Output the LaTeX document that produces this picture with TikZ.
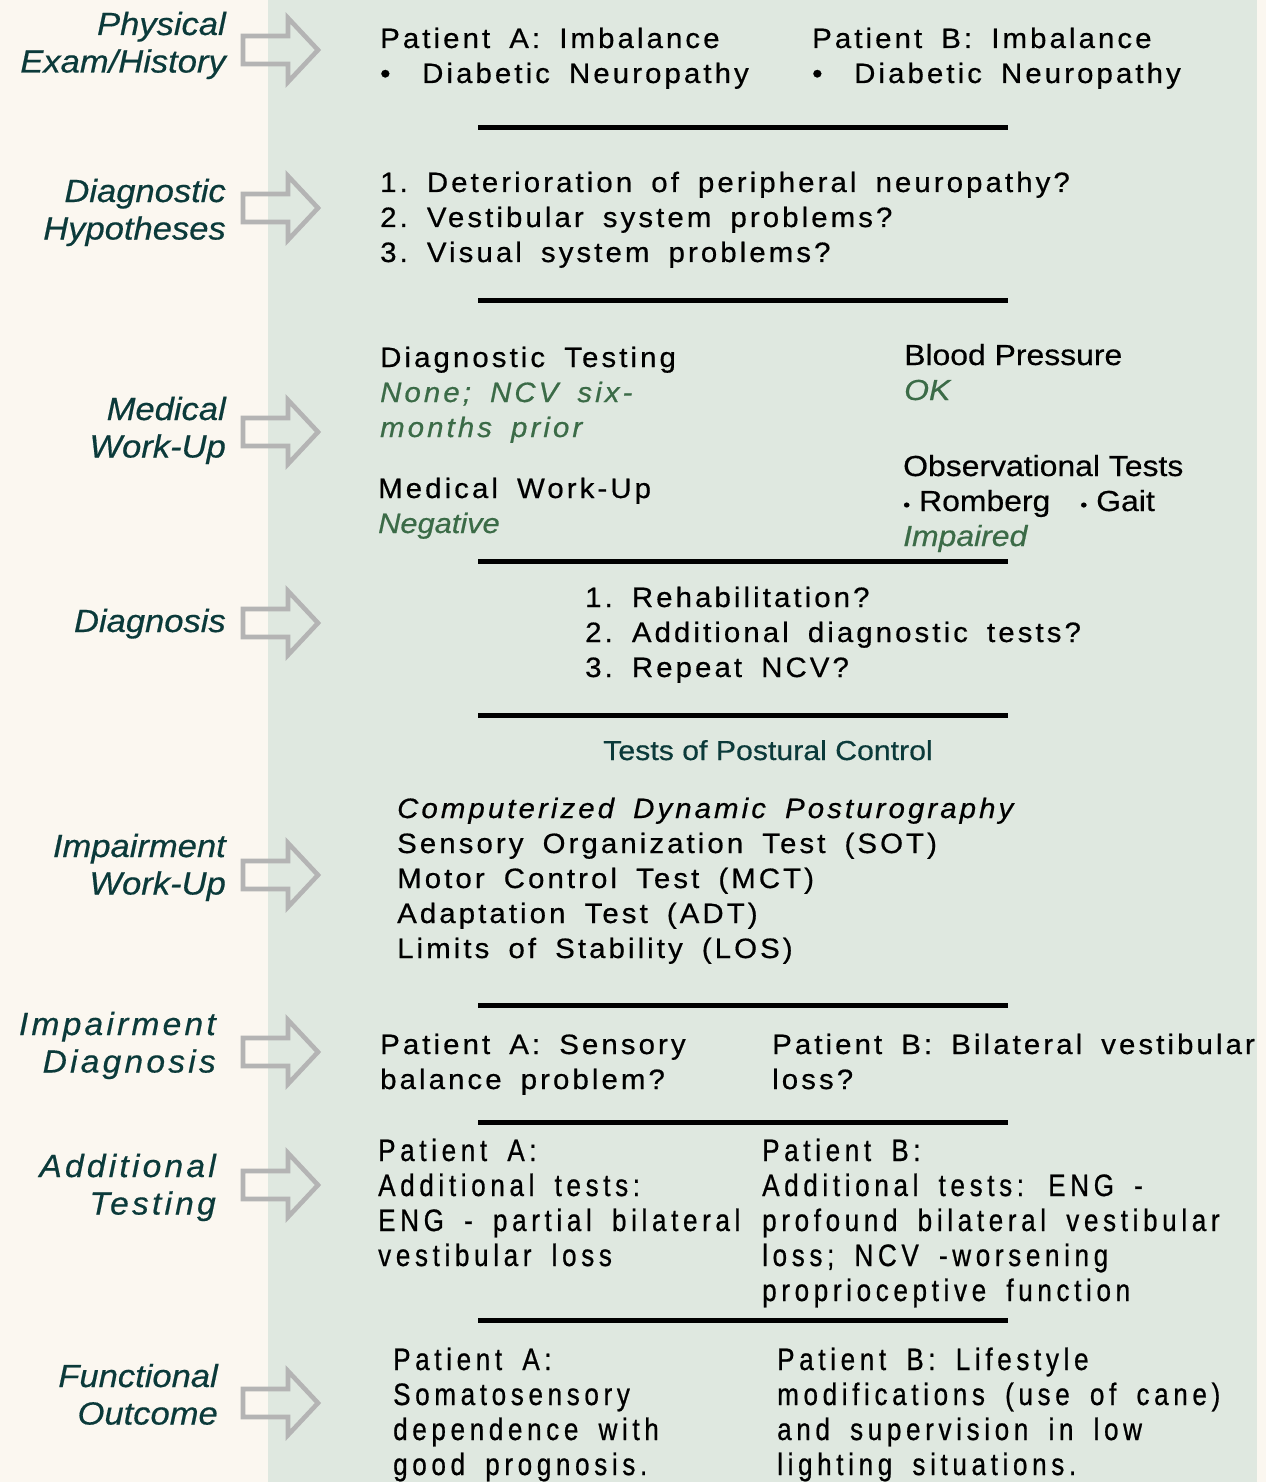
\documentclass[tikz,border=0pt]{standalone}
\usepackage{fontspec}
\setmainfont{Liberation Sans}
\newfontfamily\bodyspaced[FakeStretch=1.05,LetterSpace=11,WordSpace=1.7,FakeBold=0.6]{Liberation Sans}
\newfontfamily\plainwide[FakeStretch=1.1,FakeBold=0.5]{Liberation Sans}
\newfontfamily\narrowf[FakeStretch=0.84,LetterSpace=15,WordSpace=1.7,FakeBold=0.7]{Liberation Sans}
\newfontfamily\lblf[FakeStretch=1.08,FakeBold=0.5]{Liberation Sans}
\newfontfamily\lblspf[FakeStretch=1.05,LetterSpace=10,FakeBold=0.5]{Liberation Sans}
\definecolor{creambg}{HTML}{FBF7F0}
\definecolor{panelbg}{HTML}{DFE8E0}
\definecolor{labteal}{HTML}{0B3A3A}
\definecolor{okgreen}{HTML}{3B6B47}
\definecolor{arrowgray}{HTML}{B4B4B4}
\newcommand\blk[1]{\begin{tabular}[t]{@{}l@{}}#1\end{tabular}}
\newcommand\rblk[1]{\begin{tabular}[t]{@{}r@{}}#1\end{tabular}}
\newcommand\gi[1]{\textcolor{okgreen}{\itshape #1}}
\newcommand\gip[1]{\textcolor{okgreen}{\plainwide\itshape #1}}
\tikzset{
  lab/.style={anchor=base east, inner sep=0pt, text=labteal, font=\fontsize{32}{37.5}\selectfont\lblf\itshape},
  labsp/.style={anchor=base east, inner sep=0pt, text=labteal, font=\fontsize{32}{37.5}\selectfont\lblspf\itshape},
  body/.style={anchor=base west, inner sep=0pt, text=black, font=\fontsize{28}{35}\selectfont\bodyspaced},
  plainbody/.style={anchor=base west, inner sep=0pt, text=black, font=\fontsize{29}{35}\selectfont\plainwide},
  narrowbody/.style={anchor=base west, inner sep=0pt, text=black, font=\fontsize{31}{35}\selectfont\narrowf},
  heading/.style={anchor=base, inner sep=0pt, text=labteal, font=\fontsize{27.5}{30}\selectfont\plainwide},
  rulebar/.style={line width=5pt, black},
  blockarrow/.style={draw=arrowgray, line width=4.6pt, miter limit=10},
}
\begin{document}
\begin{tikzpicture}[x=1pt,y=-1pt]
\fill[creambg] (0,0) rectangle (1266,1482);
\fill[panelbg] (268,0) rectangle (1257,1482);
\useasboundingbox (0,0) rectangle (1266,1482);

% left labels
\node[lab] (l1) at (226,35) {\rblk{Physical\\Exam/History}};
\node[lab] (l2) at (226,202) {\rblk{Diagnostic\\Hypotheses}};
\node[lab] (l3) at (226,420) {\rblk{Medical\\Work-Up}};
\node[lab] (l4) at (226,632) {Diagnosis};
\node[lab] (l5) at (226,857) {\rblk{Impairment\\Work-Up}};
\node[labsp] (l6) at (216,1035) {\rblk{Impairment\\Diagnosis}};
\node[labsp] (l7) at (216,1177) {\rblk{Additional\\Testing}};
\node[lab] (l8) at (218,1387) {\rblk{Functional\\Outcome}};

% block arrows
\foreach \c in {50,208,432,623,875,1052,1185,1403}{
  \draw[blockarrow] (243,\c-14) -- (288,\c-14) -- (288,\c-32) -- (318,\c)
     -- (288,\c+32) -- (288,\c+14) -- (243,\c+14) -- cycle;
}

% separator rules
\foreach \y in {128,300,561,715,1005,1122,1320}{
  \draw[rulebar] (478,\y) -- (1008,\y);
}

% row 1
\node[body] (pa1) at (380,48) {\blk{Patient A: Imbalance\\\makebox[42pt][l]{•}Diabetic Neuropathy}};
\node[body] (pb1) at (812,48) {\blk{Patient B: Imbalance\\\makebox[42pt][l]{•}Diabetic Neuropathy}};

% row 2
\node[body] (hyp) at (380,192) {\blk{1.\ Deterioration of peripheral neuropathy?\\2.\ Vestibular system problems?\\3.\ Visual system problems?}};

% row 3
\node[body] (dt) at (380,367) {\blk{Diagnostic Testing\\\gi{None; NCV six-}\\\gi{months prior}}};
\node[body] (mw) at (378,498) {\blk{Medical Work-Up\\\gip{Negative}}};
\node[plainbody] (bp) at (904,365) {\blk{Blood Pressure\\\gi{OK}}};
\node[plainbody] (ot) at (903,476) {\blk{Observational Tests\\{\fontsize{18}{20}\selectfont•}\hspace{9pt}Romberg\hspace{30pt}{\fontsize{18}{20}\selectfont•}\hspace{9pt}Gait\\\gi{Impaired}}};

% row 4
\node[body] (dx) at (585,607) {\blk{1.\ Rehabilitation?\\2.\ Additional diagnostic tests?\\3.\ Repeat NCV?}};

% row 5
\node[heading] (tpc) at (768,760) {Tests of Postural Control};
\node[body] (cdp) at (397,818) {\blk{\itshape Computerized Dynamic Posturography\\Sensory Organization Test (SOT)\\Motor Control Test (MCT)\\Adaptation Test (ADT)\\Limits of Stability (LOS)}};

% row 6
\node[body] (ida) at (380,1054) {\blk{Patient A: Sensory\\balance problem?}};
\node[body] (idb) at (772,1054) {\blk{Patient B: Bilateral vestibular\\loss?}};

% row 7
\node[narrowbody] (ata) at (378,1161) {\blk{Patient A:\\Additional tests:\\ENG - partial bilateral\\vestibular loss}};
\node[narrowbody] (atb) at (762,1161) {\blk{Patient B:\\Additional tests: ENG -\\profound bilateral vestibular\\loss; NCV -worsening\\proprioceptive function}};

% row 8
\node[narrowbody] (foa) at (393,1370) {\blk{Patient A:\\Somatosensory\\dependence with\\good prognosis.}};
\node[narrowbody] (fob) at (777,1370) {\blk{Patient B: Lifestyle\\modifications (use of cane)\\and supervision in low\\lighting situations.}};
\end{tikzpicture}
\end{document}
